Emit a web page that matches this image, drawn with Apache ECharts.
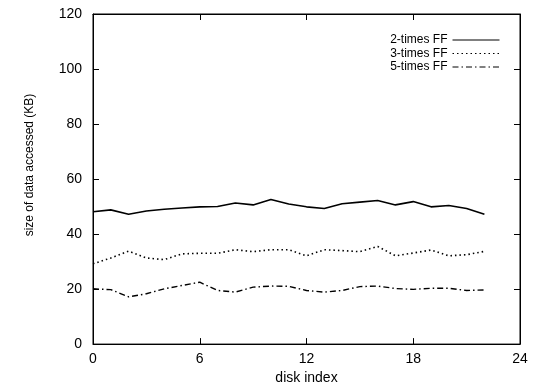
<!DOCTYPE html>
<html>
<head>
<meta charset="utf-8">
<script src="https://cdn.jsdelivr.net/npm/echarts@6/dist/echarts.min.js"></script>
<style>
html,body{margin:0;padding:0;background:#fff;}
#chart{width:538px;height:390px;}
</style>
</head>
<body>
<div id="chart"></div>
<script>
var diskIndex = [0,1,2,3,4,5,6,7,8,9,10,11,12,13,14,15,16,17,18,19,20,21,22];
var seriesNames = ['2-times FF', '3-times FF', '5-times FF'];
var ff2 = [48.1,48.8,47.2,48.4,49.0,49.5,49.9,50.0,51.3,50.6,52.6,50.9,49.9,49.3,51.0,51.6,52.2,50.6,51.8,49.9,50.4,49.3,47.2];
var ff3 = [29.2,31.3,33.8,31.3,30.7,32.8,33.0,33.0,34.3,33.6,34.3,34.3,32.1,34.3,34.0,33.6,35.5,32.1,33.1,34.2,32.1,32.5,33.7];
var ff5 = [20.1,19.8,17.2,18.3,20.1,21.3,22.5,19.5,18.9,20.7,21.1,21.0,19.5,18.9,19.5,20.9,21.1,20.2,19.9,20.3,20.3,19.5,19.7];
var xTicks = [0, 6, 12, 18, 24];
var yTicks = [0, 20, 40, 60, 80, 100, 120];

function pairs(vals){ return diskIndex.map(function(x,i){ return [x, vals[i]]; }); }

var font = 'Liberation Sans, Arial, Helvetica, sans-serif';
var chart = echarts.init(document.getElementById('chart'), null, {renderer:'canvas'});

function axisBase(){
  return {
    type: 'value',
    axisLine: {show: true, onZero: false, lineStyle: {color: '#000', width: 1}},
    axisTick: {show: true, inside: true, length: 6, lineStyle: {color: '#000', width: 1}},
    splitLine: {show: false}
  };
}

var styles = [
  {type: 'solid', width: 1.6},
  {type: [1.5, 3], width: 1.6},
  {type: [6, 3, 1.5, 3], width: 1.4}
];
var datas = [ff2, ff3, ff5];

chart.setOption({
  animation: false,
  backgroundColor: '#fff',
  grid: {left: 93, right: 18, top: 14, bottom: 39, show: true, borderColor: '#000', borderWidth: 1, backgroundColor: 'transparent'},
  legend: {
    orient: 'vertical',
    right: 33,
    top: 29,
    align: 'right',
    itemWidth: 47,
    itemHeight: 10,
    itemGap: 1.5,
    textStyle: {fontFamily: font, fontSize: 12, color: '#000'},
    itemStyle: {opacity: 0},
    lineStyle: {width: 1},
    data: seriesNames
  },
  xAxis: [
    Object.assign(axisBase(), {
      position: 'bottom', min: xTicks[0], max: xTicks[xTicks.length-1], interval: 6,
      name: 'disk index', nameLocation: 'middle', nameGap: 24,
      nameTextStyle: {fontFamily: font, fontSize: 14, color: '#000'},
      axisLabel: {margin: 8, fontFamily: font, fontSize: 14, color: '#000'}
    }),
    Object.assign(axisBase(), {
      position: 'top', min: xTicks[0], max: xTicks[xTicks.length-1], interval: 6,
      axisLabel: {show: false}
    })
  ],
  yAxis: [
    Object.assign(axisBase(), {
      position: 'left', min: yTicks[0], max: yTicks[yTicks.length-1], interval: 20,
      axisLabel: {margin: 11, fontFamily: font, fontSize: 14, color: '#000'}
    }),
    Object.assign(axisBase(), {
      position: 'right', min: yTicks[0], max: yTicks[yTicks.length-1], interval: 20,
      axisLabel: {show: false}
    })
  ],
  graphic: [{
    type: 'text',
    x: 30, y: 165,
    rotation: Math.PI / 2,
    style: {
      text: 'size of data accessed (KB)',
      fontFamily: font, fontSize: 12, fill: '#000',
      align: 'center', verticalAlign: 'middle'
    }
  }],
  series: seriesNames.map(function(n, k){
    return {
      name: n,
      type: 'line',
      xAxisIndex: 0, yAxisIndex: 0,
      symbol: 'none',
      data: pairs(datas[k]),
      itemStyle: {color: '#000'},
      lineStyle: {color: '#000', type: styles[k].type, width: styles[k].width}
    };
  })
});
</script>
</body>
</html>
